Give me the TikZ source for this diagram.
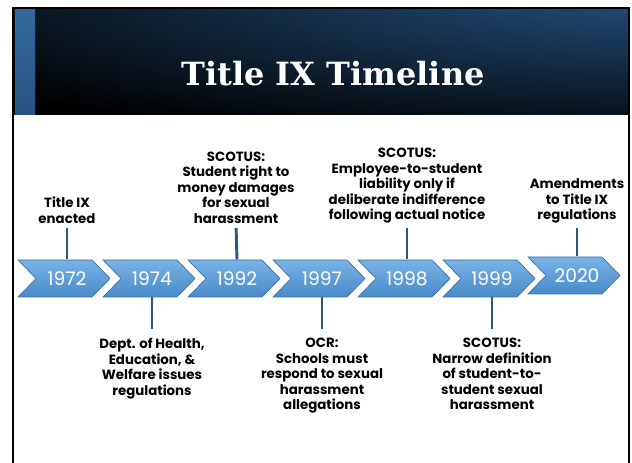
\documentclass[tikz,border=0pt]{standalone}
\usepackage{fontspec}
\newfontfamily\lblfont{Poppins}
\newfontfamily\ttlfont{DejaVu Serif}

\definecolor{chevtop}{RGB}{122,178,228}
\definecolor{chevbot}{RGB}{72,138,201}
\definecolor{chevedge}{RGB}{56,114,172}
\definecolor{stemblue}{RGB}{45,88,130}
\definecolor{hdrblue}{RGB}{36,82,128}
\definecolor{striptop}{RGB}{52,106,158}
\definecolor{stripbot}{RGB}{38,84,130}

\tikzset{
	chevron/.style={top color=chevtop, bottom color=chevbot, draw=chevedge, line width=0.5pt},
	yearlabel/.style={inner sep=0pt, minimum height=27.75pt, text=white, font=\lblfont\fontsize{14}{16}\selectfont},
	eventlabel/.style={align=center, inner sep=0pt, font=\lblfont\bfseries\fontsize{10}{11.6}\selectfont},
	stem/.style={draw=stemblue, line width=2.2pt}}
\tikzset{every picture/.style={line width=0.75pt}}

\begin{document}
\begin{tikzpicture}[x=0.75pt,y=0.75pt,yscale=-1,xscale=1]
	\useasboundingbox (0,0) rectangle (632,463);
	
	%Header bar
	\fill[black] (13,8) rectangle (629,115);
	\begin{scope}
		\clip (13,8) rectangle (629,115);
		\shade[inner color=hdrblue, outer color=black] (680,-10) ellipse (900 and 160);
	\end{scope}
	\shade[top color=striptop, bottom color=stripbot] (15,9) rectangle (35,115);
	%Frame
	\draw[line width=1.5pt] (13,463) -- (13,8) -- (629,8) -- (629,463);
	
	% Text Node
	\node[text=white, font=\ttlfont\bfseries\fontsize{24}{28}\selectfont] (title) at (333,74) {Title IX Timeline};
	
	%Chevrons
	\foreach \yr/\dy [count=\i from 0] in {1972/0,1974/0,1992/0,1997/0,1998/0,1999/0,2020/-3} {
		\path[chevron] ({18+85*\i},{260+\dy}) -- ++(74,0) -- ++(18,18.5) -- ++(-18,18.5) -- ++(-74,0) -- ++(18,-18.5) -- cycle;
		\node[yearlabel] (y\yr) at ({67+85*\i},{278.5+\dy}) {\yr};
	}
	
	% Text Node
	\node[eventlabel, anchor=south] (e1972) at (67,224) {Title IX\\enacted};
	% Text Node
	\node[eventlabel, anchor=south] (e1992) at (236,224) {SCOTUS:\\Student right to\\money damages\\for sexual\\harassment};
	% Text Node
	\node[eventlabel, anchor=south] (e1998) at (407,224) {SCOTUS:\\Employee-to-student\\liability only if\\deliberate indifference\\following actual notice};
	% Text Node
	\node[eventlabel, anchor=south] (e2020) at (577,224) {Amendments\\to Title IX\\regulations};
	% Text Node
	\node[eventlabel, anchor=north] (e1974) at (152,338) {Dept. of Health,\\Education, \&\\Welfare issues\\regulations};
	% Text Node
	\node[eventlabel, anchor=north] (e1997) at (322,338) {OCR:\\Schools must\\respond to sexual\\harassment\\allegations};
	% Text Node
	\node[eventlabel, anchor=north] (e1999) at (492,338) {SCOTUS:\\Narrow definition\\of student-to-\\student sexual\\harassment};
	
	%Stems
	\foreach \yr in {1972,1992,1998,2020}
		\draw[stem, shorten >=3pt] (y\yr.north) -- (e\yr.south);
	\foreach \yr in {1974,1997,1999}
		\draw[stem, shorten >=6.75pt] (y\yr.south) -- (e\yr.north);
	
\end{tikzpicture}
\end{document}
